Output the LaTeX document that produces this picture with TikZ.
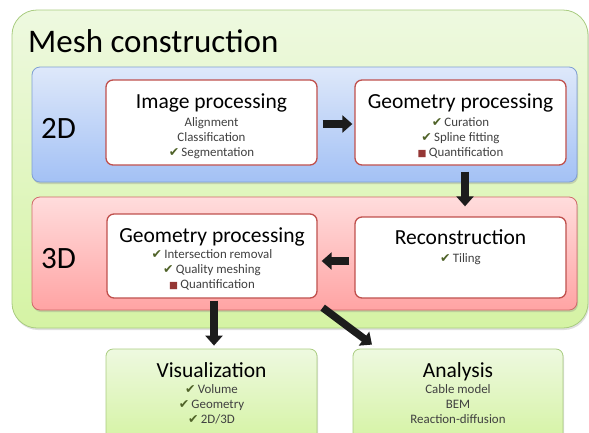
\documentclass[tikz,border=0pt]{standalone}
\usepackage{fontspec}
\setmainfont{Carlito}
\newfontfamily\symfont{DejaVu Sans}
\usetikzlibrary{arrows.meta,shadows,calc}
\definecolor{outerborder}{HTML}{A9CC80}
\definecolor{outertop}{HTML}{EEF9E0}
\definecolor{outerbot}{HTML}{D5F3A4}
\definecolor{bluetop}{HTML}{DEE8FA}
\definecolor{bluebot}{HTML}{A3C1F5}
\definecolor{blueborder}{HTML}{7F9FD3}
\definecolor{redtop}{HTML}{FFDCDC}
\definecolor{redbot}{HTML}{FFA4A4}
\definecolor{redborder}{HTML}{D06A6A}
\definecolor{boxborder}{HTML}{C0504D}
\definecolor{itemgray}{HTML}{404040}
\definecolor{chk}{HTML}{4F6228}
\definecolor{sqc}{HTML}{953735}
\definecolor{arrowc}{HTML}{1C1C1C}
\newcommand{\chkm}{{\symfont\fontsize{12.5}{13}\selectfont\color{chk}✔}\,}
\newcommand{\sqm}{{\symfont\fontsize{9.5}{13}\selectfont\color{sqc}■}\,}
\tikzset{
  outerbox/.style={draw=outerborder, line width=0.8pt, rounded corners=25pt, top color=outertop, bottom color=outerbot, drop shadow={opacity=0.25,shadow xshift=1pt,shadow yshift=-2pt}},
  bluebox/.style={draw=blueborder, line width=0.8pt, rounded corners=8pt, top color=bluetop, bottom color=bluebot, drop shadow={opacity=0.3,shadow xshift=1pt,shadow yshift=-2pt}},
  redbox/.style={draw=redborder, line width=0.8pt, rounded corners=8pt, top color=redtop, bottom color=redbot, drop shadow={opacity=0.3,shadow xshift=1pt,shadow yshift=-2pt}},
  whitebox/.style={draw=boxborder, line width=1.3pt, rounded corners=7pt, fill=white},
  greenbox/.style={draw=outerborder, line width=0.8pt, rounded corners=7pt, top color=outertop, bottom color=outerbot, drop shadow={opacity=0.25,shadow xshift=1pt,shadow yshift=-2pt}},
  bigtitle/.style={font=\fontsize{33}{38}\selectfont, anchor=base west, inner sep=0pt},
  dimlabel/.style={font=\fontsize{31}{36}\selectfont, anchor=base west, inner sep=0pt},
  boxtitle/.style={font=\fontsize{21.5}{24}\selectfont, anchor=base, inner sep=0pt},
  item/.style={font=\fontsize{12.9}{14}\selectfont, text=itemgray, anchor=base, inner sep=0pt},
  bigarrow/.style={draw=arrowc, line width=7.5pt, -{Triangle[width=17pt,length=10pt]}, drop shadow={opacity=0.2}},
}
\begin{document}
\begin{tikzpicture}[x=1pt,y=-1pt]
\useasboundingbox (0,0) rectangle (589,432);
% containers
\node[outerbox, minimum width=576pt, minimum height=318pt, inner sep=0pt] (outer) at (300,169) {};
\node[bluebox, minimum width=545pt, minimum height=115pt, inner sep=0pt] (blue) at (304.5,124.5) {};
\node[redbox, minimum width=545pt, minimum height=113pt, inner sep=0pt] (red) at (304.5,253.5) {};
% process boxes
\node[whitebox, minimum width=211pt, minimum height=85pt, inner sep=0pt] (imgp) at (211.5,122.5) {};
\node[whitebox, minimum width=211pt, minimum height=85pt, inner sep=0pt] (geo2) at (460.5,122.5) {};
\node[whitebox, minimum width=210pt, minimum height=84pt, inner sep=0pt] (geo3) at (212,256) {};
\node[whitebox, minimum width=211pt, minimum height=81pt, inner sep=0pt] (recon) at (460.5,257.5) {};
\node[greenbox, minimum width=211pt, minimum height=92pt, inner sep=0pt] (vis) at (211.5,395) {};
\node[greenbox, minimum width=210pt, minimum height=92pt, inner sep=0pt] (ana) at (458,395) {};
% labels
\node[bigtitle] (title) at (28,52) {Mesh construction};
\node[dimlabel] (twod) at (41,138) {2D};
\node[dimlabel] (threed) at (41,268) {3D};
% image processing
\node[boxtitle] (imgpt) at (211.5,108) {Image processing};
\node[item] (imgp1) at (211.5,126) {Alignment};
\node[item] (imgp2) at (211.5,141) {Classification};
\node[item] (imgp3) at (211.5,156) {\chkm Segmentation};
% geometry 2D
\node[boxtitle] (geo2t) at (460.5,108) {Geometry processing};
\node[item] (geo21) at (460.5,126) {\chkm Curation};
\node[item] (geo22) at (460.5,141) {\chkm Spline fitting};
\node[item] (geo23) at (460.5,156) {\sqm Quantification};
% geometry 3D
\node[boxtitle] (geo3t) at (212,242) {Geometry processing};
\node[item] (geo31) at (212,258) {\chkm Intersection removal};
\node[item] (geo32) at (212,273) {\chkm Quality meshing};
\node[item] (geo33) at (212,288) {\sqm Quantification};
% reconstruction
\node[boxtitle] (recont) at (460.5,244) {Reconstruction};
\node[item] (recon1) at (460.5,262) {\chkm Tiling};
% visualization
\node[boxtitle] (vist) at (211.5,377) {Visualization};
\node[item] (vis1) at (211.5,393) {\chkm Volume};
\node[item] (vis2) at (211.5,408) {\chkm Geometry};
\node[item] (vis3) at (211.5,423) {\chkm 2D/3D};
% analysis
\node[boxtitle] (anat) at (458,377) {Analysis};
\node[item] (ana1) at (458,393) {Cable model};
\node[item] (ana2) at (458,408) {BEM};
\node[item] (ana3) at (458,423) {Reaction-diffusion};
% arrows
\draw[bigarrow] ([xshift=5pt,yshift=-1.5pt]imgp.east) -- ([xshift=-2pt,yshift=-1.5pt]geo2.west);
\draw[bigarrow] ([xshift=4.5pt,yshift=-6pt]geo2.south) -- ([xshift=4.5pt,yshift=10pt]recon.north);
\draw[bigarrow] ([xshift=-5pt,yshift=-3.5pt]recon.west) -- ([xshift=4pt,yshift=-5pt]geo3.east);
\draw[bigarrow] ([xshift=2pt,yshift=-2pt]geo3.south) -- ([xshift=2.5pt,yshift=3pt]vis.north);
\draw[bigarrow] ([xshift=5pt,yshift=-9pt]geo3.south east) -- ([xshift=-86pt,yshift=4pt]ana.north);
\end{tikzpicture}
\end{document}
